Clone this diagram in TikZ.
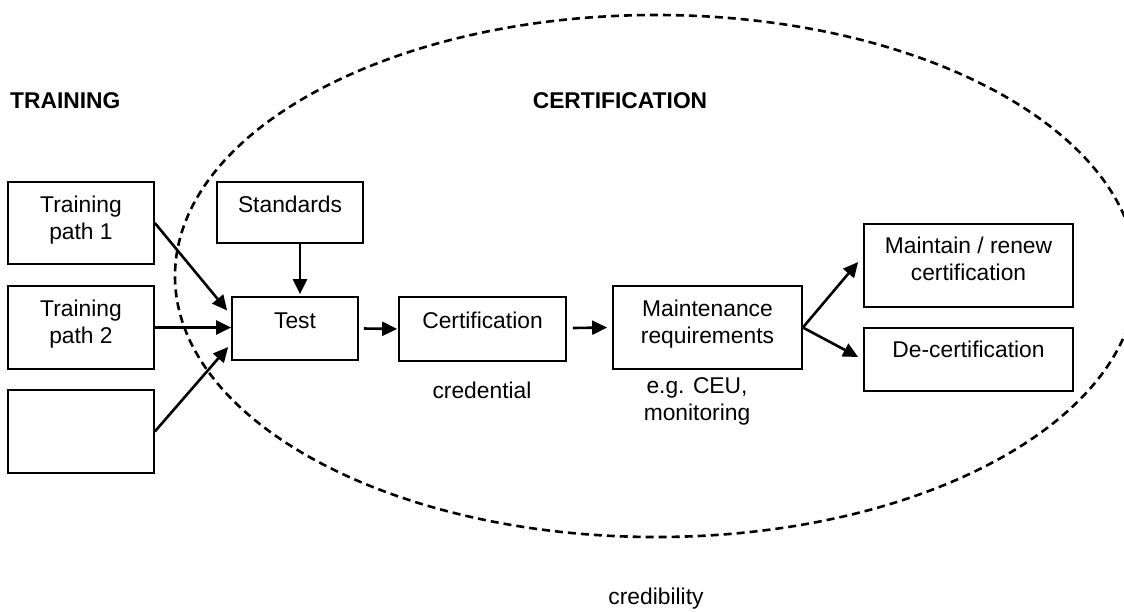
\documentclass[tikz,border=0pt]{standalone}
\usepackage{fontspec}
\setmainfont{Liberation Sans}
\usetikzlibrary{arrows.meta,calc}
\begin{document}
\begin{tikzpicture}[x=1pt,y=-1pt,
  txt/.style={font=\fontsize{22.8}{27}\selectfont, inner sep=0pt},
  txtb/.style={font=\fontsize{22.8}{27}\selectfont\bfseries, inner sep=0pt},
  box/.style={draw, line width=1.7pt, inner sep=0pt},
  boxtext/.style={txt, anchor=north, align=center},
  arr/.style={line width=2.6pt, -{Triangle[length=15pt,width=14pt]}},
  ring/.style={line width=2.6pt, dash pattern=on 8pt off 5pt},
  ]
\useasboundingbox (0,0) rectangle (1124,611);
\fill[white] (0,0) rectangle (1124,611);
\draw[ring] (656,276) ellipse [x radius=481, y radius=261];

% boxes
\node[box, minimum width=146pt, minimum height=82pt] (tp1) at (81,223) {};
\node[box, minimum width=146pt, minimum height=83pt] (tp2) at (81,327.5) {};
\node[box, minimum width=146pt, minimum height=83pt] (tp3) at (81,431.5) {};
\node[box, minimum width=146pt, minimum height=61pt] (std) at (290,212.5) {};
\node[box, minimum width=126pt, minimum height=63pt] (test) at (295,328.5) {};
\node[box, minimum width=167pt, minimum height=64pt] (cert) at (482.5,329) {};
\node[box, minimum width=189pt, minimum height=83pt] (maint) at (707.5,327.5) {};
\node[box, minimum width=209pt, minimum height=83pt] (renew) at (968.5,265.5) {};
\node[box, minimum width=209pt, minimum height=63pt] (decert) at (968.5,359.5) {};

% box texts
\node[boxtext] (tp1t) at ($(tp1.north)+(0,14.5)$) {Training\\path 1};
\node[boxtext] (tp2t) at ($(tp2.north)+(0,14.5)$) {Training\\path 2};
\node[boxtext] (stdt) at ($(std.north)+(0,15)$) {Standards};
\node[boxtext] (testt) at ($(test.north)+(0,16)$) {Test};
\node[boxtext] (certt) at ($(cert.north)+(0,16)$) {Certification};
\node[boxtext] (maintt) at ($(maint.north)+(0,15)$) {Maintenance\\requirements};
\node[boxtext] (renewt) at ($(renew.north)+(0,13.5)$) {Maintain / renew\\certification};
\node[boxtext] (decertt) at ($(decert.north)+(0,14)$) {De-certification};

% arrows
\draw[arr] (tp1.east) -- ($(test.west)+(-4,-18)$);
\draw[arr] (tp2.east) -- (tp2.east -| test.west);
\draw[arr] (tp3.east) -- ($(test.west)+(-3,18.5)$);
\draw[arr] ($(std.south)+(10,0)$) -- ($(test.north)+(5,-2)$);
\draw[arr] ($(test.east)+(5,0)$) -- ($(cert.west)+(-1,0)$);
\draw[arr] ($(cert.east)+(6,-1)$) -- ($(maint.west)+(-5,0)$);
\draw[arr] (maint.east) -- ($(renew.west)+(-5,-3.5)$);
\draw[arr] (maint.east) -- ($(decert.west)+(-5,-2.5)$);

% labels
\node[txtb, anchor=west] (trn) at (10,101) {TRAINING};
\node[txtb] (certl) at (620,101) {CERTIFICATION};
\node[txt] (cred) at (482,390) {credential};
\node[txt, anchor=north, align=center] (ceu) at (697,377) {e.g. CEU,\\monitoring};
\node[txt, anchor=north] (credib) at (656,588) {credibility};
\end{tikzpicture}
\end{document}
